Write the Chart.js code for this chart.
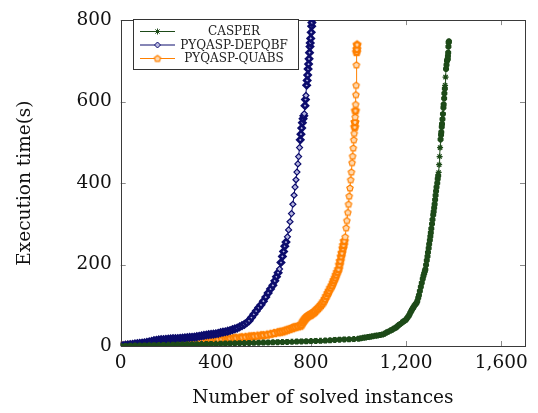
<!DOCTYPE html>
<html><head><meta charset="utf-8">
<script src="https://cdn.jsdelivr.net/npm/chart.js@4/dist/chart.umd.min.js"></script>
<style>html,body{margin:0;padding:0;background:#fff}#wrap{width:538px;height:413px}</style>
</head><body><div id="wrap"><canvas id="c" width="538" height="413"></canvas></div>
<script>
const seriesNames = ['CASPER', 'PYQASP-DEPQBF', 'PYQASP-QUABS'];
const xTicks = [0, 400, 800, 1200, 1600];
const yTicks = [0, 200, 400, 600, 800];

const casperX = [0,20,40,60,80,100,120,140,160,180,200,220,240,260,280,300,320,340,360,380,400,420,440,460,480,500,520,540,560,580,600,620,640,660,680,700,720,740,760,780,800,820,840,860,880,900,920,940,960,980,1000,1010,1020,1030,1040,1050,1060,1070,1080,1090,1100,1108,1117,1125,1134,1142,1150,1157,1163,1169,1175,1181,1188,1194,1200,1205,1210,1214,1218,1222,1225,1229,1232,1236,1240,1244,1247,1251,1254,1258,1262,1266,1270,1273,1276,1279,1281,1284,1287,1290,1292,1295,1297,1300,1302,1304,1306,1309,1311,1314,1316,1318,1320,1322,1324,1326,1328,1331,1333,1335,1337,1339,1341,1343,1345,1347,1348,1350,1351,1353,1355,1357,1358,1360,1361,1363,1364,1366,1368,1370,1372,1374,1375,1376,1377,1378,1379,1380];
const casperY = [0,0.3,0.7,1,1.2,1.5,1.8,2,2.3,2.6,3,3.2,3.5,3.7,4,4.2,4.5,4.7,5,5.2,5.5,5.8,6,6.3,6.6,7,7.2,7.5,7.8,8,8.3,8.6,9,9.3,9.7,10,10.4,10.8,11.2,11.6,12,12.4,12.8,13.3,14,15,15.5,16,16.5,17,18,19,20,21,22,23,24,25,26,27,28,30,33,35,38,40,43,45,48,51,54,57,60,62,65,69,73,77,82,86,90,93,96,100,103,106,110,118,125,135,145,155,165,172,178,184,188,199,210,220,230,240,250,260,269,278,288,300,310,322,330,339,348,359,370,380,390,400,410,418,426,445,465,487,507,518,525,538,545,557,570,585,593,608,620,632,640,660,680,690,700,703,705,712,720,735,745,748];

const depqbfX = [0,10,20,30,40,50,60,70,80,90,100,110,120,130,140,150,160,170,180,190,200,210,220,230,240,250,260,270,280,290,300,310,320,330,340,350,360,370,380,390,400,410,420,430,440,450,460,470,480,490,500,510,520,530,540,550,560,570,580,590,600,610,620,630,640,648,655,662,668,674,680,685,690,695,701,706,712,718,724,729,733,737,741,745,748,752,755,758,761,764,767,770,772,775,777,779,782,784,786,788,790,792,794,796,797,799,801,803,804,806,808];
const depqbfY = [0,1,2,3,3.5,4,5,6,6.5,7,8,9,10,11.5,13,14,15,15.5,16,16.5,17,17.5,18,18,18.5,19,19.5,20,20.5,21,21.5,22,23,24,25,26,27,28,28.5,29,30,31,33,34,35,36.5,38,40,42,44,47,50,53,57,62,70,78,86,94,101,110,120,130,140,149,160,170,180,189,205,220,232,245,255,268,285,305,325,348,370,390,408,427,447,465,487,506,520,535,548,558,565,570,590,605,615,640,652,665,680,692,705,720,735,744,755,770,785,794,805,820];

const quabsX = [0,10,20,30,40,50,60,70,80,90,100,110,120,130,140,150,160,170,180,190,200,210,220,230,240,250,260,270,280,290,300,310,320,334,345,360,370,380,390,400,410,425,440,450,460,474,485,500,510,525,540,550,560,575,590,600,615,630,645,660,670,680,690,700,710,720,727,735,745,755,760,765,769,773,777,781,785,789,793,797,800,805,810,814,818,824,830,836,842,848,853,859,865,871,876,882,888,893,897,902,906,911,916,920,923,927,930,934,937,940,944,948,951,955,958,961,964,967,970,973,975,978,980,982,984,985,986,987,988,989,990,991,992,993,994];
const quabsY = [0,0.5,1,1.5,2,2,2.5,2.5,3,3,3,3.5,4,4.5,5,5,5.5,6,6.5,7,7,7.5,8,8.5,9,9,9.5,10,10.5,11,11,11.5,12,13,13.5,14,14.5,15,15.5,16,16.5,17,18,18.5,19,20,20.5,21,21.5,22.5,23.5,24,24.5,25.5,26.5,27,28,30,32,34,35,36,38,40,42,44,46,47,48.5,50,53,58,62,65,68,71,73,75,76,77,78,80,82,84,86,90,93,97,101,105,110,116,123,130,136,143,149,156,162,168,175,182,189,200,209,220,229,240,248,258,268,290,308,328,348,368,388,408,427,450,466,486,506,522,538,550,562,578,593,617,640,690,722,729,740];

const colors = ['#1d4a18', '#0c0c6c', '#ff8000'];
const serif = '"DejaVu Serif", serif';

function pentagon(color, lw, r) {
  const size = Math.ceil(2 * r + lw + 2);
  const c = document.createElement('canvas');
  c.width = size; c.height = size;
  const g = c.getContext('2d');
  const cx = size / 2, cy = size / 2 + 0.3;
  g.beginPath();
  for (let i = 0; i < 5; i++) {
    const a = -Math.PI / 2 + i * 2 * Math.PI / 5;
    const px = cx + r * Math.cos(a), py = cy + r * Math.sin(a);
    i ? g.lineTo(px, py) : g.moveTo(px, py);
  }
  g.closePath();
  g.fillStyle = '#ffd9b0'; g.fill();
  g.strokeStyle = color; g.lineWidth = lw; g.stroke();
  return c;
}
const pentThin = pentagon(colors[2], 1.2, 3.3);
const pentThick = pentagon(colors[2], 2.6, 3.3);

function pts(xs, ys) { return xs.map((x, i) => ({x: x, y: ys[i]})); }

// marker stroke is heavier where neighbouring marks crowd together (band look of the original)
function crowded(ctx) {
  const ds = ctx.chart.data.datasets[ctx.datasetIndex].data;
  const i = ctx.dataIndex;
  const xs = ctx.chart.scales.x, ys = ctx.chart.scales.y;
  const j = i < ds.length - 1 ? i + 1 : i - 1;
  if (j < 0) return false;
  const dx = xs.getPixelForValue(ds[j].x) - xs.getPixelForValue(ds[i].x);
  const dy = ys.getPixelForValue(ds[j].y) - ys.getPixelForValue(ds[i].y);
  return Math.hypot(dx, dy) < 6.5;
}

const frameTicks = {
  id: 'frameTicks',
  beforeDatasetsDraw(chart) {
    const ctx = chart.ctx, a = chart.chartArea;
    const xs = chart.scales.x, ys = chart.scales.y;
    ctx.save();
    ctx.strokeStyle = '#8a8a8a'; ctx.lineWidth = 1;
    ctx.beginPath();
    xs.ticks.forEach(t => {
      const px = Math.round(xs.getPixelForValue(t.value)) + 0.5;
      ctx.moveTo(px, a.bottom); ctx.lineTo(px, a.bottom - 5);
      ctx.moveTo(px, a.top); ctx.lineTo(px, a.top + 5);
    });
    ys.ticks.forEach(t => {
      const py = Math.round(ys.getPixelForValue(t.value)) + 0.5;
      ctx.moveTo(a.left, py); ctx.lineTo(a.left + 5, py);
      ctx.moveTo(a.right, py); ctx.lineTo(a.right - 5, py);
    });
    ctx.stroke();
    ctx.strokeStyle = '#3a3a3a';
    ctx.strokeRect(Math.round(a.left) + 0.5, Math.round(a.top) + 0.5, Math.round(a.right - a.left), Math.round(a.bottom - a.top));
    ctx.restore();
  }
};

const legendStyles = [
  {pointStyle: 'star', radius: 3},
  {pointStyle: 'rectRot', radius: 3},
  {pointStyle: pentThin, radius: 3}
];

const boxLegend = {
  id: 'boxLegend',
  afterDraw(chart) {
    const ctx = chart.ctx;
    ctx.save();
    const bx = 133.5, by = 19.5, bw = 165, bh = 50;
    ctx.fillStyle = '#fff';
    ctx.fillRect(bx, by, bw, bh);
    ctx.strokeStyle = '#333'; ctx.lineWidth = 1;
    ctx.strokeRect(bx, by, bw, bh);
    ctx.font = '12px ' + serif;
    ctx.textAlign = 'center'; ctx.textBaseline = 'middle';
    chart.data.datasets.forEach((ds, i) => {
      const y = 31.5 + i * 13.5;
      ctx.strokeStyle = ds.borderColor; ctx.lineWidth = 1;
      ctx.beginPath(); ctx.moveTo(140, y); ctx.lineTo(175, y); ctx.stroke();
      ctx.fillStyle = i === 1 ? '#b8b8e0' : ds.borderColor;
      ctx.strokeStyle = ds.borderColor;
      Chart.helpers.drawPoint(ctx, {pointStyle: legendStyles[i].pointStyle, radius: legendStyles[i].radius, rotation: 0, borderWidth: 1}, 157.5, y);
      ctx.fillStyle = '#222';
      ctx.fillText(ds.label, 234, y + 0.5);
    });
    ctx.restore();
  }
};

const tickFont = {family: serif, size: 18.5};

new Chart(document.getElementById('c'), {
  type: 'line',
  data: {
    datasets: [
      {label: seriesNames[0], data: pts(casperX, casperY), borderColor: colors[0], backgroundColor: colors[0],
        pointStyle: 'star', pointRadius: 3, pointBorderWidth: c => crowded(c) ? 2.8 : 1.2,
        pointBackgroundColor: colors[0], pointBorderColor: colors[0], borderWidth: 1},
      {label: seriesNames[1], data: pts(depqbfX, depqbfY), borderColor: colors[1], backgroundColor: colors[1],
        pointStyle: 'rectRot', pointRadius: 3, pointBorderWidth: c => crowded(c) ? 2.6 : 1.2,
        pointBackgroundColor: '#b8b8e0', pointBorderColor: colors[1], borderWidth: 1},
      {label: seriesNames[2], data: pts(quabsX, quabsY), borderColor: colors[2], backgroundColor: colors[2],
        pointStyle: c => crowded(c) ? pentThick : pentThin, pointRadius: 3, pointBorderWidth: 1,
        pointBackgroundColor: '#ffd9b0', pointBorderColor: colors[2], borderWidth: 1}
    ]
  },
  options: {
    responsive: false, animation: false,
    layout: {padding: {left: 0, right: 13, top: 10, bottom: 0}},
    plugins: {legend: {display: false}, tooltip: {enabled: false}},
    scales: {
      x: {type: 'linear', min: 0, max: 1700,
        grid: {display: false, drawTicks: false}, border: {display: false},
        afterBuildTicks: s => { s.ticks = xTicks.map(v => ({value: v})); },
        ticks: {autoSkip: false, maxRotation: 0, padding: 6, color: '#111', font: tickFont,
          callback: v => v.toLocaleString('en-US')},
        title: {display: true, text: 'Number of solved instances', color: '#111', font: tickFont, padding: {top: 0, bottom: 4}},
        afterFit: s => { s.height = 67; }
      },
      y: {type: 'linear', min: 0, max: 800,
        grid: {display: false, drawTicks: false}, border: {display: false},
        afterBuildTicks: s => { s.ticks = yTicks.map(v => ({value: v})); },
        ticks: {autoSkip: false, padding: 9, color: '#111', font: tickFont},
        title: {display: true, text: 'Execution time(s)', color: '#111', font: tickFont, padding: {top: 14, bottom: 0}},
        afterFit: s => { s.width = 120.7; }
      }
    }
  },
  plugins: [frameTicks, boxLegend]
});
</script></body></html>
